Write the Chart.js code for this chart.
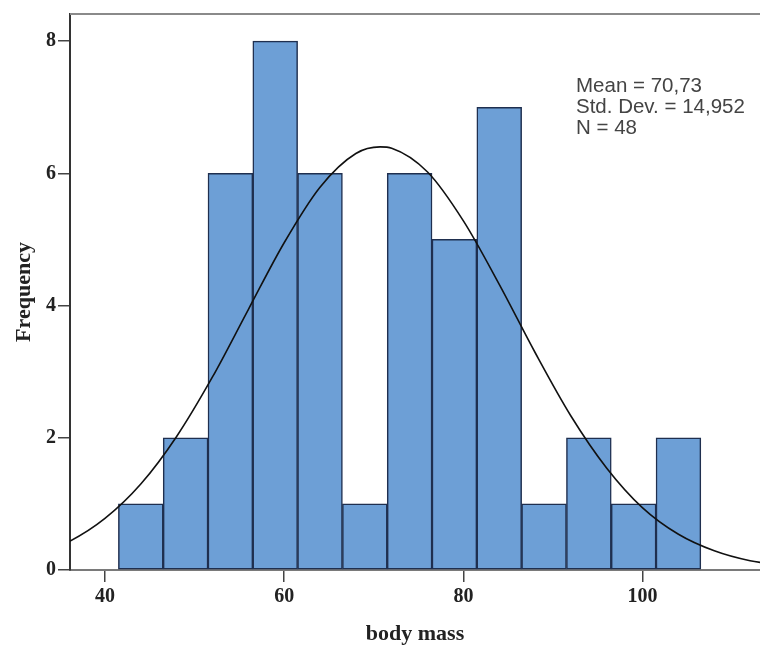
<!DOCTYPE html>
<html>
<head>
<meta charset="utf-8">
<script src="https://cdn.jsdelivr.net/npm/chart.js@4.4.1/dist/chart.umd.min.js"></script>
<style>
  html, body { margin: 0; padding: 0; background: #fff; }
  #wrap { width: 760px; height: 646px; position: relative; }
</style>
</head>
<body>
<div id="wrap"><canvas id="chart"></canvas></div>
<script>
// histogram bins (centre of each 5 kg bin) and counts
const binCenters = [44, 49, 54, 59, 64, 69, 74, 79, 84, 89, 94, 99, 104]
const frequencies = [1, 2, 6, 8, 6, 1, 6, 5, 7, 1, 2, 1, 2]

// normal curve
const curveX = [32, 36, 40, 44, 48, 52, 56, 60, 64, 68, 70.7, 72, 76, 80, 84, 88, 92, 96, 100, 104, 108, 112, 116]
const curveY = [0.22, 0.43, 0.78, 1.30, 2.02, 2.92, 3.94, 4.95, 5.79, 6.30, 6.40, 6.38, 6.02, 5.28, 4.32, 3.29, 2.33, 1.54, 0.94, 0.54, 0.29, 0.14, 0.07]

const xTicks = [40, 60, 80, 100]
const yTicks = [0, 2, 4, 6, 8]
const statsLines = ['Mean = 70,73', 'Std. Dev. = 14,952', 'N = 48']

const serifBold = { family: '"Liberation Serif", "DejaVu Serif", serif', weight: 'bold' }

// top frame line + stats box text
const extras = {
  id: 'extras',
  afterDraw(chart) {
    const { ctx, chartArea } = chart
    ctx.save()
    ctx.strokeStyle = '#8a8a8a'
    ctx.lineWidth = 2
    ctx.beginPath()
    ctx.moveTo(chartArea.left, chartArea.top)
    ctx.lineTo(chartArea.right, chartArea.top)
    ctx.stroke()

    ctx.fillStyle = '#444'
    ctx.font = '20.5px "Liberation Sans", Arial, sans-serif'
    ctx.textBaseline = 'alphabetic'
    statsLines.forEach((line, i) => ctx.fillText(line, 576, 92 + i * 21))
    ctx.restore()
  }
}

new Chart(document.getElementById('chart'), {
  type: 'bar',
  data: {
    datasets: [
      {
        type: 'line',
        data: curveX.map((x, i) => ({ x: x, y: curveY[i] })),
        borderColor: '#111',
        borderWidth: 1.6,
        pointRadius: 0,
        cubicInterpolationMode: 'monotone',
        fill: false,
        order: 0
      },
      {
        data: binCenters.map((x, i) => ({ x: x, y: frequencies[i] })),
        backgroundColor: '#6d9fd6',
        borderColor: '#1f2f4f',
        borderWidth: 1.5,
        borderSkipped: false,
        barPercentage: 1,
        categoryPercentage: 1,
        order: 1
      }
    ]
  },
  options: {
    responsive: true,
    maintainAspectRatio: false,
    animation: false,
    layout: { padding: { left: 0, right: 0, top: 13, bottom: 0 } },
    plugins: {
      legend: { display: false },
      tooltip: { enabled: false }
    },
    scales: {
      x: {
        type: 'linear',
        min: 36.1,
        max: 113.1,
        offset: false,
        afterBuildTicks: (axis) => { axis.ticks = xTicks.map(v => ({ value: v })) },
        afterFit: (axis) => { axis.height = 76 },
        grid: { offset: false, drawOnChartArea: false, drawTicks: true, tickLength: 12, color: '#444', lineWidth: 1.5 },
        border: { display: true, color: '#7a7a7a', width: 2 },
        ticks: { color: '#222', padding: 3, font: { ...serifBold, size: 20 } },
        title: {
          display: true,
          text: 'body mass',
          color: '#222',
          padding: { top: 0, bottom: 1 },
          font: { ...serifBold, size: 22, lineHeight: 1 }
        }
      },
      y: {
        min: 0,
        max: 8.41,
        afterBuildTicks: (axis) => { axis.ticks = yTicks.map(v => ({ value: v })) },
        afterFit: (axis) => { axis.width = 70 },
        grid: { drawOnChartArea: false, drawTicks: true, tickLength: 12, color: '#444', lineWidth: 1.5 },
        border: { display: true, color: '#333', width: 2 },
        ticks: { color: '#222', padding: 2, font: { ...serifBold, size: 20 } },
        title: {
          display: true,
          text: 'Frequency',
          color: '#222',
          padding: { top: 13, bottom: 0 },
          font: { ...serifBold, size: 22, lineHeight: 1 }
        }
      }
    }
  },
  plugins: [extras]
})
</script>
</body>
</html>
